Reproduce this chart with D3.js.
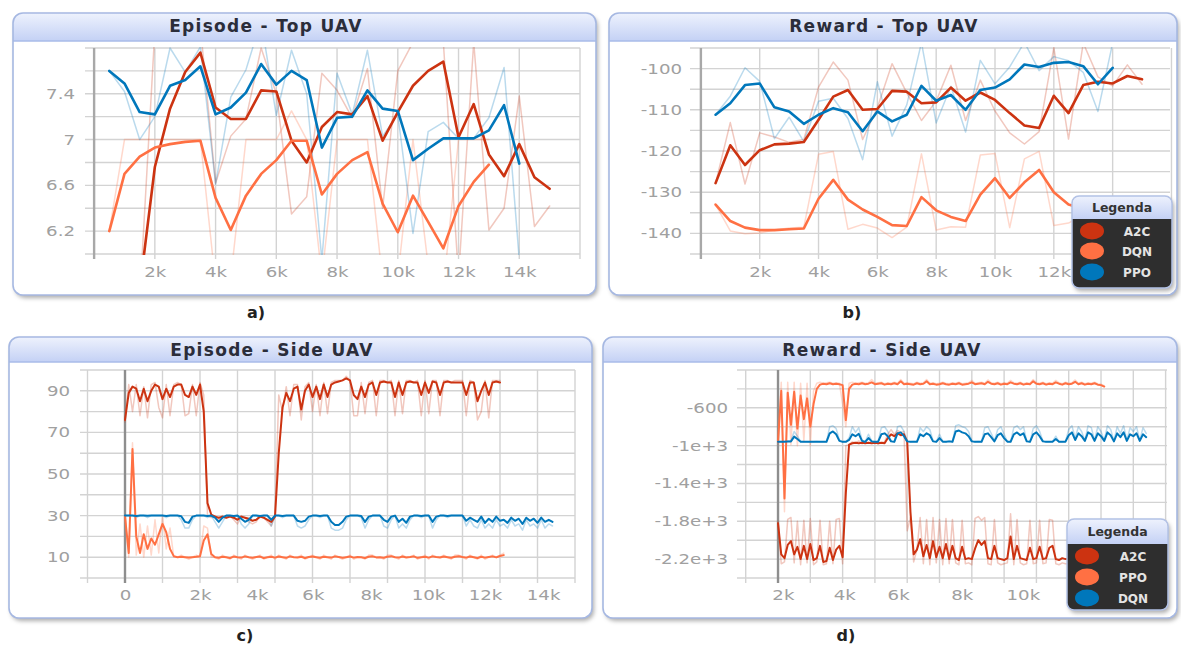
<!DOCTYPE html>
<html>
<head>
<meta charset="utf-8">
<title>UAV training curves</title>
<script src="https://cdn.jsdelivr.net/npm/d3@7/dist/d3.min.js"></script>
<style>
  html, body { margin: 0; padding: 0; background: #ffffff; }
  svg { display: block; font-family: "DejaVu Sans", sans-serif; }
</style>
</head>
<body>
<svg id="chart" width="1181" height="646"></svg>
<script>
// ---------------- Episode length - top UAV (one point every 500 steps) ----------------
const topStepSize = 500;
const topEpA2CStart = 1500;
const topEpA2C = [5.69, 6.76, 7.27, 7.59, 7.76, 7.28, 7.18, 7.18, 7.43, 7.42, 6.99, 6.80, 7.11, 7.24,
  7.22, 7.38, 6.99, 7.24, 7.47, 7.60, 7.68, 7.02, 7.31, 6.87, 6.68, 6.96, 6.67, 6.57];
const topEpA2CRaw = [5.60, 7.95, 7.90, 7.97, 7.98, 6.62, 7.03, 7.18, 7.80, 7.40, 6.35, 6.50, 7.58, 7.43,
  7.19, 7.62, 6.40, 7.60, 7.85, 7.85, 7.85, 5.80, 7.85, 6.21, 6.40, 7.38, 6.24, 6.42];
const topEpDQNStart = 500;
const topEpDQN = [6.20, 6.70, 6.85, 6.93, 6.96, 6.98, 6.99, 6.49, 6.21, 6.51, 6.70, 6.82, 6.99, 6.99,
  6.52, 6.70, 6.82, 6.89, 6.44, 6.19, 6.51, 6.28, 6.05, 6.42, 6.63, 6.78];
const topEpDQNRaw = [6.20, 7.00, 7.00, 7.00, 7.00, 7.00, 7.00, 5.74, 5.79, 7.00, 7.00, 7.00, 7.25, 7.00,
  5.80, 7.00, 7.00, 7.00, 5.77, 5.80, 7.00, 5.90, 5.70, 7.00, 7.00, 7.00];
const topEpPPOStart = 500;
const topEpPPO = [7.60, 7.49, 7.24, 7.22, 7.47, 7.52, 7.64, 7.22, 7.28, 7.41, 7.66, 7.48, 7.60, 7.52,
  6.93, 7.19, 7.20, 7.43, 7.27, 7.25, 6.82, 6.92, 7.01, 7.01, 7.01, 7.08, 7.30, 6.79];
const topEpPPORaw = [7.60, 7.42, 7.00, 7.20, 7.80, 7.59, 7.81, 6.61, 7.37, 7.61, 8.04, 7.21, 7.78, 7.40,
  5.95, 7.58, 7.22, 7.78, 7.03, 7.22, 6.18, 7.07, 7.15, 7.01, 7.01, 7.19, 7.63, 5.95];

// ---------------- Reward - top UAV (one point every 500 steps) ----------------
const topRwStart = 500;
const topRwA2C = [-127.8, -118.6, -123.4, -119.8, -118.4, -118.2, -117.8, -112.4, -106.8, -105.2, -110, -109.8,
  -105.4, -105.6, -108.4, -108.2, -104.6, -107.8, -105.8, -107.6, -110.8, -113.8, -114.4, -106.6, -110.8, -104,
  -103.2, -103.6, -101.8, -102.6];
const topRwA2CRaw = [-127.8, -113.1, -128.0, -115.6, -116.6, -117.9, -117.2, -104.5, -98.4, -102.8, -117.2, -109.5,
  -98.8, -105.9, -112.6, -107.9, -99.2, -112.6, -102.8, -110.3, -115.6, -118.3, -115.3, -94.9, -117.1, -93.8,
  -102.0, -104.2, -99.1, -103.8];
const topRwDQN = [-133, -137, -138.6, -139.2, -139.2, -139, -138.8, -131.6, -127, -131.8, -134.2, -136, -138,
  -138.2, -131.2, -134.4, -136, -137, -130.6, -126.6, -131.4, -127.6, -124.6, -130, -133, -134];
const topRwDQNRaw = [-133, -139.4, -140.1, -139.9, -139.2, -138.7, -138.5, -120.8, -120.1, -139, -137.8, -138.7,
  -141, -138.5, -120.7, -139.2, -138.4, -138.5, -121, -120.6, -138.6, -121.9, -120.1, -138.1, -137.5, -135.5];
const topRwPPO = [-111.2, -108.4, -104, -103.6, -109.4, -110.4, -113.4, -111.2, -109.6, -110.6, -115.2, -110.4,
  -112.8, -111.2, -104.2, -107.8, -106.4, -110, -105.2, -104.6, -102.6, -99, -99.6, -98.6, -98.4, -99.4, -103.8, -99.8];
const topRwPPORaw = [-111.2, -106.7, -99.8, -103.1, -117, -111.8, -117.7, -107.9, -107.2, -112.1, -122.1, -103.2,
  -116.4, -108.8, -93.7, -113.2, -104.3, -115.4, -98, -103.7, -99.6, -93.6, -100.5, -97.1, -98.1, -100.9, -110.4, -93.8];

// ---------------- Episode length - side UAV (one point every 100 steps, from 0) ----------------
const sideStepSize = 100;
const sideEpStart = 0;
const sideEpA2C = [76, 89, 92, 91, 85, 91, 85, 90, 93, 92,
  86, 91, 87, 92, 93, 93, 88, 87, 92, 88,
  93, 80, 36, 30.5, 29.5, 29, 29.5, 29, 29.5, 29,
  28, 29.5, 29, 28.5, 27.5, 28, 29.5, 29, 28, 27,
  29.5, 60, 82, 89, 85, 91, 92, 81, 90, 93,
  87, 92, 86, 93, 87, 93, 94, 94.5, 95, 96,
  95, 88, 86, 92, 87, 93, 94, 88, 94, 94.5,
  94, 94, 87, 94, 88, 94, 94.5, 94, 94, 88,
  94, 89, 94.5, 94, 88, 94, 94.5, 94, 94, 94,
  94, 88, 94, 94, 85, 90, 94, 88, 94, 94.5,
  94];
const sideEpA2CRaw = [75, 93, 80, 93, 78, 92, 77, 93, 94, 82,
  77, 93, 78, 93, 94, 93, 78, 79, 93, 78,
  94, 88, 30, 29, 30, 28, 30, 29, 30, 28,
  26, 30, 29, 27, 26, 27, 30, 29, 27, 25,
  30, 88, 80, 92, 78, 93, 93, 76, 92, 94,
  80, 93, 78, 94, 79, 94, 95, 95, 95, 97,
  95, 78, 78, 94, 79, 94, 95, 78, 95, 95,
  94, 95, 78, 95, 79, 95, 95, 94, 95, 78,
  95, 79, 95, 95, 78, 95, 95, 94, 95, 95,
  95, 78, 95, 94, 76, 80, 95, 77, 95, 95,
  95];
const sideEpDQN = [29.5, 12, 62, 20, 12, 21, 14, 19, 16, 21,
  26, 22, 14, 10.5, 10, 10.2, 10, 9.8, 10, 10.2,
  10.5, 18, 21, 11.5, 10, 9.7, 10.2, 10, 9.6, 10.3,
  10, 9.8, 10.4, 10, 9.7, 10.1, 10.3, 9.6, 10, 10.2,
  9.8, 10.3, 10, 9.7, 10.4, 10, 9.9, 10.2, 9.6, 10.1,
  10.3, 10, 9.7, 10.2, 10, 9.8, 10.4, 10.1, 9.7, 10,
  10.3, 9.8, 10.1, 10, 9.6, 10.2, 10.4, 9.9, 10, 9.7,
  10.2, 10.5, 10, 9.8, 10.3, 9.9, 10.1, 10.4, 9.7, 10,
  10.2, 9.8, 10.4, 10.1, 9.9, 10.3, 10, 9.7, 10.2, 10.5,
  10.1, 9.8, 10.3, 10, 9.6, 10.2, 9.8, 10.1, 10.4, 9.9,
  10.6, 11];
const sideEpDQNRaw = [30, 10, 65, 11, 26, 10, 25, 11, 28, 12,
  30, 14, 24, 10, 10, 11, 10, 9, 10, 11,
  10, 25, 24, 10, 10, 9, 11, 10, 9, 11,
  10, 9, 11, 10, 9, 10, 11, 9, 10, 11,
  9, 11, 10, 9, 11, 10, 10, 11, 9, 10,
  11, 10, 9, 11, 10, 9, 11, 10, 9, 10,
  11, 9, 10, 10, 9, 11, 11, 10, 10, 9,
  11, 11, 10, 9, 11, 10, 10, 11, 9, 10,
  11, 9, 11, 10, 10, 11, 10, 9, 11, 11,
  10, 9, 11, 10, 9, 11, 9, 10, 11, 10,
  11, 12];
const sideEpPPO = [30, 30, 30, 29.8, 30, 30, 29.9, 30, 30, 30,
  30, 29.8, 30, 30, 30, 29.7, 27, 26.5, 29.5, 30,
  30, 30, 29.8, 30, 29, 27, 29, 30, 30, 29.8,
  30, 28.5, 27, 28, 30, 30, 29.8, 30, 30, 28,
  30, 30, 29.8, 30, 30, 30, 27.5, 27, 27.5, 29.5,
  30, 30, 29.8, 30, 30, 27, 25.5, 25.5, 27, 29.5,
  30, 30, 30, 29.8, 27, 29.5, 30, 30, 30, 28,
  27, 29.5, 30, 27, 28.5, 26.5, 29.5, 30, 30, 29.8,
  30, 30, 27, 29.5, 30, 30, 29.8, 30, 30, 30,
  30, 27.5, 29, 28, 27, 29.5, 26.5, 28.5, 27, 29.5,
  27.5, 28, 26.5, 29, 27.5, 28.5, 26, 29, 27.5, 28.5,
  26.5, 29, 27, 28, 27];
const sideEpPPORaw = [30, 30, 30, 29, 30, 30, 29, 30, 30, 30,
  30, 29, 30, 30, 30, 28, 24, 24, 28, 30,
  30, 30, 29, 30, 27, 24, 27, 30, 30, 29,
  30, 26, 24, 26, 30, 30, 29, 30, 30, 25,
  30, 30, 29, 30, 30, 30, 25, 24, 25, 28,
  30, 30, 29, 30, 30, 24, 23, 23, 24, 28,
  30, 30, 30, 29, 24, 28, 30, 30, 30, 25,
  24, 28, 30, 24, 26, 24, 28, 30, 30, 29,
  30, 30, 24, 28, 30, 30, 29, 30, 30, 30,
  30, 25, 28, 25, 24, 28, 24, 26, 24, 28,
  25, 26, 24, 28, 25, 26, 23, 28, 25, 26,
  24, 28, 24, 26, 25];

// ---------------- Reward - side UAV (one point every 100 steps, from 2000) ----------------
const sideRwStart = 2000;
const sideRwA2C = [-1820, -2150, -2190, -2050, -2010, -2150, -2070, -2200, -2060, -2200,
  -2040, -2210, -2190, -2060, -2230, -2220, -2080, -2210, -2100, -2060,
  -2180, -1500, -990, -975, -970, -975, -970, -975, -970, -975,
  -970, -975, -970, -975, -920, -880, -900, -870, -890, -880,
  -960, -1700, -2150, -2100, -1990, -2170, -2050, -2190, -2010, -2180,
  -2070, -2190, -2040, -2200, -2060, -2190, -2210, -2070, -2200, -2190,
  -2200, -2090, -2000, -2050, -2010, -2190, -2200, -2060, -2190, -2200,
  -2210, -2190, -1960, -2200, -2060, -2190, -2200, -2210, -2080, -2200,
  -2190, -2070, -2200, -2190, -2080, -2060, -2200, -2210, -2190, -2200,
  -2200, -2190, -2210, -2200, -2190, -2200, -2210, -2200, -2190, -2200,
  -2200];
const sideRwA2CRaw = [-1800, -2250, -2230, -1780, -1760, -2240, -1800, -2260, -1790, -2240,
  -1770, -2260, -2230, -1790, -2260, -2250, -1800, -2250, -1780, -1770,
  -2250, -1000, -990, -960, -970, -950, -980, -960, -975, -960,
  -960, -980, -970, -960, -880, -830, -880, -840, -860, -850,
  -1900, -1760, -2230, -2100, -1760, -2250, -1780, -2260, -1760, -2240,
  -1780, -2260, -1770, -2250, -1780, -2240, -2260, -1790, -2250, -2240,
  -2260, -1770, -1750, -1790, -1760, -2250, -2260, -1780, -2240, -2260,
  -2250, -2240, -1720, -2260, -1780, -2240, -2260, -2250, -1790, -2250,
  -2240, -1790, -2250, -2240, -1780, -1790, -2250, -2260, -2240, -2250,
  -2250, -2240, -2260, -2250, -2240, -2250, -2260, -2250, -2240, -2250,
  -2250];
const sideRwPPO = [-960, -420, -1560, -440, -780, -430, -820, -470, -720, -500,
  -800, -560, -400, -355, -345, -350, -340, -350, -345, -350,
  -360, -730, -400, -355, -345, -350, -340, -350, -345, -330,
  -350, -345, -340, -355, -345, -350, -340, -350, -320, -350,
  -345, -350, -355, -340, -350, -345, -320, -350, -345, -355,
  -350, -340, -350, -355, -345, -350, -340, -355, -350, -345,
  -330, -350, -345, -340, -350, -325, -345, -350, -340, -355,
  -345, -350, -330, -345, -350, -340, -355, -345, -350, -320,
  -345, -350, -340, -355, -345, -350, -330, -345, -355, -340,
  -350, -345, -325, -350, -340, -355, -345, -350, -340, -355,
  -360, -375];
const sideRwPPORaw = [-980, -330, -1700, -330, -990, -330, -1000, -340, -950, -340,
  -1000, -420, -340, -330, -340, -335, -330, -340, -335, -340,
  -560, -800, -340, -330, -340, -335, -330, -340, -335, -300,
  -340, -335, -330, -345, -335, -340, -330, -340, -300, -340,
  -335, -340, -345, -330, -340, -335, -300, -340, -335, -345,
  -340, -330, -340, -345, -335, -340, -330, -345, -340, -335,
  -310, -340, -335, -330, -340, -305, -335, -340, -330, -345,
  -335, -340, -310, -335, -340, -330, -345, -335, -340, -300,
  -335, -340, -330, -345, -335, -340, -310, -335, -345, -330,
  -340, -335, -305, -340, -330, -345, -335, -340, -330, -345,
  -350, -365];
const sideRwDQN = [-960, -960, -958, -955, -955, -905, -930, -958, -960, -960,
  -960, -960, -958, -960, -960, -960, -870, -850, -880, -950,
  -960, -960, -940, -880, -900, -875, -950, -960, -920, -955,
  -960, -958, -880, -870, -900, -955, -960, -870, -860, -900,
  -955, -960, -958, -960, -880, -900, -870, -890, -955, -960,
  -920, -958, -960, -955, -960, -850, -840, -860, -870, -900,
  -955, -960, -958, -960, -880, -870, -910, -955, -890, -870,
  -920, -958, -960, -880, -860, -890, -870, -955, -960, -880,
  -860, -900, -955, -960, -960, -958, -930, -960, -960, -958,
  -890, -860, -940, -870, -900, -950, -860, -880, -950, -870,
  -900, -950, -860, -890, -955, -870, -910, -860, -950, -880,
  -900, -870, -950, -880, -910];
const sideRwDQNRaw = [-960, -960, -955, -950, -950, -850, -900, -955, -960, -960,
  -960, -960, -955, -960, -960, -960, -800, -790, -820, -940,
  -960, -960, -920, -800, -860, -810, -940, -960, -880, -950,
  -960, -955, -810, -800, -850, -950, -960, -800, -790, -850,
  -950, -960, -955, -960, -810, -850, -800, -830, -950, -960,
  -880, -955, -960, -950, -960, -790, -780, -800, -810, -850,
  -950, -960, -955, -960, -810, -800, -870, -950, -830, -800,
  -880, -955, -960, -810, -790, -830, -800, -950, -960, -820,
  -790, -850, -950, -960, -960, -955, -900, -960, -960, -955,
  -830, -790, -920, -800, -850, -945, -790, -810, -945, -800,
  -850, -945, -790, -830, -950, -800, -870, -790, -945, -810,
  -850, -800, -945, -810, -870];

// ---------------- Axis ticks and grids ----------------
const topEpYGrid = [6.0, 6.2, 6.4, 6.6, 6.8, 7.0, 7.2, 7.4, 7.6, 7.8];
const topEpYTicks = [6.2, 6.6, 7.0, 7.4];
const topEpYText = ["6.2", "6.6", "7", "7.4"];
const topRwYGrid = [-145, -140, -135, -130, -125, -120, -115, -110, -105, -100, -95];
const topRwYTicks = [-100, -110, -120, -130, -140];
const topRwYText = ["-100", "-110", "-120", "-130", "-140"];
const topXGrid = [2000, 4000, 6000, 8000, 10000, 12000, 14000, 16000];
const topEpXTicks = [2000, 4000, 6000, 8000, 10000, 12000, 14000];
const topEpXText = ["2k", "4k", "6k", "8k", "10k", "12k", "14k"];
const topRwXTicks = [2000, 4000, 6000, 8000, 10000, 12000];
const topRwXText = ["2k", "4k", "6k", "8k", "10k", "12k"];

const sideEpYGrid = [0, 10, 20, 30, 40, 50, 60, 70, 80, 90, 100];
const sideEpYTicks = [10, 30, 50, 70, 90];
const sideEpYText = ["10", "30", "50", "70", "90"];
const sideEpXGrid = [-1000, 1000, 2000, 3000, 4000, 5000, 6000, 7000, 8000, 9000, 10000, 11000, 12000];
const sideEpXTicks = [0, 2000, 3520, 5010, 6560, 8080, 9600, 11150];
const sideEpXText = ["0", "2k", "4k", "6k", "8k", "10k", "12k", "14k"];

const sideRwYGrid = [-2400, -2200, -2000, -1800, -1600, -1400, -1200, -1000, -800, -600, -400, -200];
const sideRwYTicks = [-600, -1000, -1400, -1800, -2200];
const sideRwYText = ["-600", "-1e+3", "-1.4e+3", "-1.8e+3", "-2.2e+3"];
const sideRwXGrid = [1000, 3000, 4000, 5000, 6000, 7000, 8000, 9000, 10000, 11000, 12000, 13000, 14000];
const sideRwXTicks = [2150, 4050, 5720, 7690, 9580];
const sideRwXText = ["2k", "4k", "6k", "8k", "10k"];

const COLOR = { A2C: "#cc3311", DQN: "#ff7043", PPO: "#0077bb" };

// ---------------- Drawing ----------------
const svg = d3.select("#chart");
const defs = svg.append("defs");

const hdr = defs.append("linearGradient").attr("id", "hdrGrad")
  .attr("x1", 0).attr("y1", 0).attr("x2", 0).attr("y2", 1);
hdr.append("stop").attr("offset", "0%").attr("stop-color", "#eef2fd");
hdr.append("stop").attr("offset", "100%").attr("stop-color", "#c4d1f5");

const shadow = defs.append("filter").attr("id", "shadow")
  .attr("x", "-5%").attr("y", "-5%").attr("width", "112%").attr("height", "118%");
shadow.append("feDropShadow").attr("dx", 2).attr("dy", 3).attr("stdDeviation", 2.2)
  .attr("flood-color", "#000").attr("flood-opacity", 0.32);

const panels = [
  {
    id: "a", frame: [13, 13, 583, 282], headerH: 28, title: "Episode - Top UAV", titleX: 266, titleY: 32,
    tag: "a)", tagX: 256, tagY: 318,
    plot: { left: 85, right: 580, top: 48, bottom: 254 }, xDomain: [-300, 16000], yDomain: [6.0, 7.8],
    yGrid: topEpYGrid, yTicks: topEpYTicks, yText: topEpYText, yGap: 10,
    xGrid: topXGrid, xTicks: topEpXTicks, xText: topEpXText, xLabelY: 23, axisAt: 0, axisColor: "#a8a8a8",
    lineW: 2.6,
    series: [
      { color: COLOR.A2C, start: topEpA2CStart, step: topStepSize, raw: topEpA2CRaw, smooth: topEpA2C },
      { color: COLOR.DQN, start: topEpDQNStart, step: topStepSize, raw: topEpDQNRaw, smooth: topEpDQN },
      { color: COLOR.PPO, start: topEpPPOStart, step: topStepSize, raw: topEpPPORaw, smooth: topEpPPO }
    ]
  },
  {
    id: "b", frame: [609, 13, 568, 282], headerH: 28, title: "Reward - Top UAV", titleX: 884, titleY: 32,
    tag: "b)", tagX: 852, tagY: 318,
    plot: { left: 690, right: 1170, top: 48, bottom: 254 }, xDomain: [-370, 15950], yDomain: [-145, -95],
    yGrid: topRwYGrid, yTicks: topRwYTicks, yText: topRwYText, yGap: 8,
    xGrid: topXGrid, xTicks: topRwXTicks, xText: topRwXText, xLabelY: 23, axisAt: 0, axisColor: "#a8a8a8",
    lineW: 2.6,
    series: [
      { color: COLOR.A2C, start: topRwStart, step: topStepSize, raw: topRwA2CRaw, smooth: topRwA2C },
      { color: COLOR.DQN, start: topRwStart, step: topStepSize, raw: topRwDQNRaw, smooth: topRwDQN },
      { color: COLOR.PPO, start: topRwStart, step: topStepSize, raw: topRwPPORaw, smooth: topRwPPO }
    ],
    legend: { x: 1072, y: 196, w: 100, h: 92, headerH: 23, rows: [231, 251, 272], cx: 1092, tx: 1137,
      items: [["A2C", COLOR.A2C], ["DQN", COLOR.DQN], ["PPO", COLOR.PPO]] }
  },
  {
    id: "c", frame: [9, 337, 583, 281], headerH: 25, title: "Episode - Side UAV", titleX: 272, titleY: 356,
    tag: "c)", tagX: 245, tagY: 641,
    plot: { left: 80, right: 575, top: 370, bottom: 578 }, xDomain: [-1200, 12000], yDomain: [0, 100],
    yGrid: sideEpYGrid, yTicks: sideEpYTicks, yText: sideEpYText, yGap: 10,
    xGrid: sideEpXGrid, xTicks: sideEpXTicks, xText: sideEpXText, xLabelY: 22, axisAt: 0, axisColor: "#8e8e8e",
    lineW: 2.0,
    series: [
      { color: COLOR.A2C, start: sideEpStart, step: sideStepSize, raw: sideEpA2CRaw, smooth: sideEpA2C },
      { color: COLOR.DQN, start: sideEpStart, step: sideStepSize, raw: sideEpDQNRaw, smooth: sideEpDQN },
      { color: COLOR.PPO, start: sideEpStart, step: sideStepSize, raw: sideEpPPORaw, smooth: sideEpPPO }
    ]
  },
  {
    id: "d", frame: [603, 337, 574, 281], headerH: 25, title: "Reward - Side UAV", titleX: 882, titleY: 356,
    tag: "d)", tagX: 846, tagY: 641,
    plot: { left: 737, right: 1167, top: 370, bottom: 578 }, xDomain: [730, 14043], yDomain: [-2400, -200],
    yGrid: sideRwYGrid, yTicks: sideRwYTicks, yText: sideRwYText, yGap: 9,
    xGrid: sideRwXGrid, xTicks: sideRwXTicks, xText: sideRwXText, xLabelY: 22, axisAt: 2000, axisColor: "#8e8e8e",
    lineW: 2.0,
    series: [
      { color: COLOR.A2C, start: sideRwStart, step: sideStepSize, raw: sideRwA2CRaw, smooth: sideRwA2C },
      { color: COLOR.DQN, start: sideRwStart, step: sideStepSize, raw: sideRwPPORaw, smooth: sideRwPPO },
      { color: COLOR.PPO, start: sideRwStart, step: sideStepSize, raw: sideRwDQNRaw, smooth: sideRwDQN }
    ],
    legend: { x: 1067, y: 519, w: 101, h: 91, headerH: 25, rows: [556, 577, 598], cx: 1087, tx: 1133,
      items: [["A2C", COLOR.A2C], ["PPO", COLOR.DQN], ["DQN", COLOR.PPO]] }
  }
];

function drawFrame(g, p) {
  const [fx, fy, fw, fh] = p.frame;
  const clipId = "frameClip-" + p.id;
  defs.append("clipPath").attr("id", clipId).append("rect")
    .attr("x", fx).attr("y", fy).attr("width", fw).attr("height", fh).attr("rx", 10);
  g.append("rect").attr("x", fx).attr("y", fy).attr("width", fw).attr("height", fh).attr("rx", 10)
    .attr("fill", "#ffffff").attr("filter", "url(#shadow)");
  g.append("rect").attr("x", fx).attr("y", fy).attr("width", fw).attr("height", p.headerH)
    .attr("fill", "url(#hdrGrad)").attr("clip-path", `url(#${clipId})`);
  g.append("line").attr("x1", fx).attr("x2", fx + fw).attr("y1", fy + p.headerH).attr("y2", fy + p.headerH)
    .attr("stroke", "#a9bbe8").attr("stroke-width", 1.5);
  g.append("rect").attr("x", fx).attr("y", fy).attr("width", fw).attr("height", fh).attr("rx", 10)
    .attr("fill", "none").attr("stroke", "#a6b8e2").attr("stroke-width", 1.6);
  g.append("text").attr("x", p.titleX).attr("y", p.titleY).attr("text-anchor", "middle")
    .attr("font-weight", "bold").attr("font-size", 17).attr("letter-spacing", "1.3px")
    .attr("fill", "#2b2d3a").text(p.title);
  g.append("text").attr("x", p.tagX).attr("y", p.tagY).attr("text-anchor", "middle")
    .attr("font-weight", "bold").attr("font-size", 16).attr("fill", "#222").text(p.tag);
}

function drawPlot(g, p) {
  const { left, right, top, bottom } = p.plot;
  const x = d3.scaleLinear().domain(p.xDomain).range([left, right]);
  const y = d3.scaleLinear().domain(p.yDomain).range([bottom, top]);

  // grid
  g.append("g").selectAll("line").data(p.yGrid).join("line")
    .attr("x1", left).attr("x2", right).attr("y1", d => y(d)).attr("y2", d => y(d))
    .attr("stroke", "#d3d3d3").attr("stroke-width", 1.4);
  g.append("g").selectAll("line").data(p.xGrid).join("line")
    .attr("x1", d => x(d)).attr("x2", d => x(d)).attr("y1", top).attr("y2", bottom + 5)
    .attr("stroke", "#d3d3d3").attr("stroke-width", 1.4);
  g.append("line").attr("x1", x(p.axisAt)).attr("x2", x(p.axisAt)).attr("y1", top).attr("y2", bottom + 5)
    .attr("stroke", p.axisColor).attr("stroke-width", 2.4);

  // axis labels (wide glyphs, as in the dashboard export)
  const stretch = 1.3;
  const yAxis = g.append("g").attr("transform", `translate(${left},0)`)
    .call(d3.axisLeft(y).tickValues(p.yTicks).tickFormat((d, i) => p.yText[i]).tickSize(0));
  yAxis.select(".domain").remove();
  yAxis.selectAll("text").attr("x", -p.yGap / stretch).attr("transform", `scale(${stretch},1)`)
    .attr("font-family", "DejaVu Sans").attr("font-size", 14).attr("fill", "#a0a0a0");

  const xAxis = g.append("g").attr("transform", `translate(0,${bottom})`)
    .call(d3.axisBottom(x).tickValues(p.xTicks).tickFormat((d, i) => p.xText[i]).tickSize(0));
  xAxis.select(".domain").remove();
  xAxis.selectAll("text").attr("y", p.xLabelY).attr("dy", null).attr("transform", `scale(${stretch},1)`)
    .attr("font-family", "DejaVu Sans").attr("font-size", 14).attr("fill", "#a0a0a0");

  // series: faint raw values underneath, smoothed curves on top
  const clipId = "plotClip-" + p.id;
  defs.append("clipPath").attr("id", clipId).append("rect")
    .attr("x", left).attr("y", top - 1).attr("width", right - left).attr("height", bottom - top + 2);
  const lines = g.append("g").attr("clip-path", `url(#${clipId})`)
    .attr("fill", "none").attr("stroke-linejoin", "round").attr("stroke-linecap", "round");
  const lineFor = s => d3.line().x((d, i) => x(s.start + i * s.step)).y(d => y(d));
  p.series.forEach(s => {
    lines.append("path").attr("d", lineFor(s)(s.raw))
      .attr("stroke", s.color).attr("stroke-opacity", 0.27).attr("stroke-width", 1.5);
  });
  p.series.forEach(s => {
    lines.append("path").attr("d", lineFor(s)(s.smooth))
      .attr("stroke", s.color).attr("stroke-width", p.lineW);
  });
}

function drawLegend(g, L) {
  const lg = g.append("g").attr("filter", "url(#shadow)");
  const clipId = "legendClip-" + L.x;
  defs.append("clipPath").attr("id", clipId).append("rect")
    .attr("x", L.x).attr("y", L.y).attr("width", L.w).attr("height", L.h).attr("rx", 7);
  lg.append("rect").attr("x", L.x).attr("y", L.y).attr("width", L.w).attr("height", L.h).attr("rx", 7)
    .attr("fill", "#2d2d2d");
  g.append("rect").attr("x", L.x).attr("y", L.y).attr("width", L.w).attr("height", L.headerH)
    .attr("fill", "url(#hdrGrad)").attr("clip-path", `url(#${clipId})`);
  g.append("rect").attr("x", L.x).attr("y", L.y).attr("width", L.w).attr("height", L.h).attr("rx", 7)
    .attr("fill", "none").attr("stroke", "#b3c2e6").attr("stroke-width", 1.5);
  g.append("text").attr("x", L.x + L.w / 2).attr("y", L.y + L.headerH / 2 + 4.5).attr("text-anchor", "middle")
    .attr("font-weight", "bold").attr("font-size", 12.5).attr("fill", "#333").text("Legenda");
  L.items.forEach(([name, color], i) => {
    g.append("ellipse").attr("cx", L.cx).attr("cy", L.rows[i]).attr("rx", 12).attr("ry", 8.5).attr("fill", color);
    g.append("text").attr("x", L.tx).attr("y", L.rows[i] + 4.5).attr("text-anchor", "middle")
      .attr("font-weight", "bold").attr("font-size", 12).attr("fill", "#e4e4e4").text(name);
  });
}

panels.forEach(p => {
  const g = svg.append("g").attr("class", "panel-" + p.id);
  drawFrame(g, p);
  drawPlot(g, p);
  if (p.legend) drawLegend(g, p.legend);
});
</script>
</body>
</html>
